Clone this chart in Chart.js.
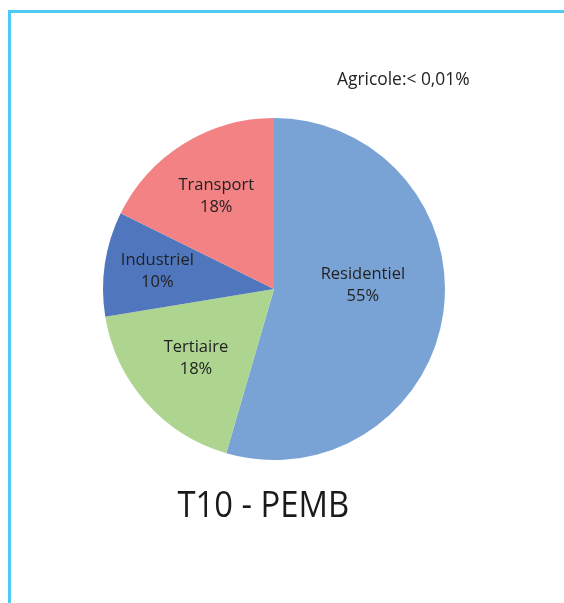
<!DOCTYPE html>
<html>
<head>
<meta charset="utf-8">
<script src="https://cdn.jsdelivr.net/npm/chart.js@4/dist/chart.umd.min.js"></script>
<style>
  html, body { margin: 0; padding: 0; background: #fff; }
  #wrap { position: relative; width: 564px; height: 603px; overflow: hidden; background: #fff; }
  #frameTop { position: absolute; left: 8px; top: 10px; width: 556px; height: 3px; background: #4fcaf2; }
  #frameLeft { position: absolute; left: 8px; top: 10px; width: 3px; height: 593px; background: #4fcaf2; }
  canvas { position: absolute; left: 0; top: 0; }
  #note { position: absolute; left: 337px; top: 66px; font: 17.4px "Open Sans", sans-serif; color: #222; white-space: nowrap; }
  #title { position: absolute; left: 0; width: 526px; top: 479px; text-align: center; font: 36px "Open Sans", sans-serif; color: #1a1a1a; white-space: nowrap; }
  #title span { display: inline-block; transform: scaleX(0.91); }
</style>
</head>
<body>
<div id="wrap">
  <div id="frameTop"></div>
  <div id="frameLeft"></div>
  <canvas id="c" width="564" height="603"></canvas>
  <div id="note"></div>
  <div id="title"><span></span></div>
</div>
<script>
const categories = ["Residentiel", "Tertiaire", "Industriel", "Transport", "Agricole"];
const values = [54.5, 17.9, 9.9, 17.7, 0];
const colors = ["#7aa3d5", "#add58f", "#5077be", "#f28284", "#c0c0c0"];
const chartTitle = "T10 - PEMB";
const noteText = "Agricole:< 0,01%";
const labelRadius = [0.52, 0.61, 0.69, 0.64, 0];
const labelAngleShift = [-10.5, 0, 0, 0, 0];

document.getElementById('note').textContent = noteText;
document.querySelector('#title span').textContent = chartTitle;

const labelPlugin = {
  id: 'sliceLabels',
  afterDatasetsDraw(chart) {
    const ctx = chart.ctx;
    const meta = chart.getDatasetMeta(0);
    ctx.save();
    ctx.fillStyle = '#222';
    ctx.font = '16.5px "Open Sans", sans-serif';
    ctx.textAlign = 'center';
    ctx.textBaseline = 'middle';
    meta.data.forEach((arc, i) => {
      if (!values[i]) return;
      const p = arc.getProps(['x', 'y', 'startAngle', 'endAngle', 'outerRadius'], true);
      const mid = (p.startAngle + p.endAngle) / 2 + labelAngleShift[i] * Math.PI / 180;
      const r = p.outerRadius * labelRadius[i];
      const x = p.x + Math.cos(mid) * r;
      const y = p.y + Math.sin(mid) * r;
      ctx.fillText(categories[i], x, y - 11);
      ctx.fillText(Math.round(values[i]) + '%', x, y + 11);
    });
    ctx.restore();
  }
};

new Chart(document.getElementById('c'), {
  type: 'pie',
  data: {
    labels: categories,
    datasets: [{
      data: values,
      backgroundColor: colors,
      borderWidth: 0
    }]
  },
  options: {
    responsive: false,
    animation: false,
    layout: { padding: { left: 103, right: 119, top: 118, bottom: 143 } },
    plugins: {
      legend: { display: false },
      tooltip: { enabled: false },
      title: { display: false }
    }
  },
  plugins: [labelPlugin]
});
</script>
</body>
</html>
